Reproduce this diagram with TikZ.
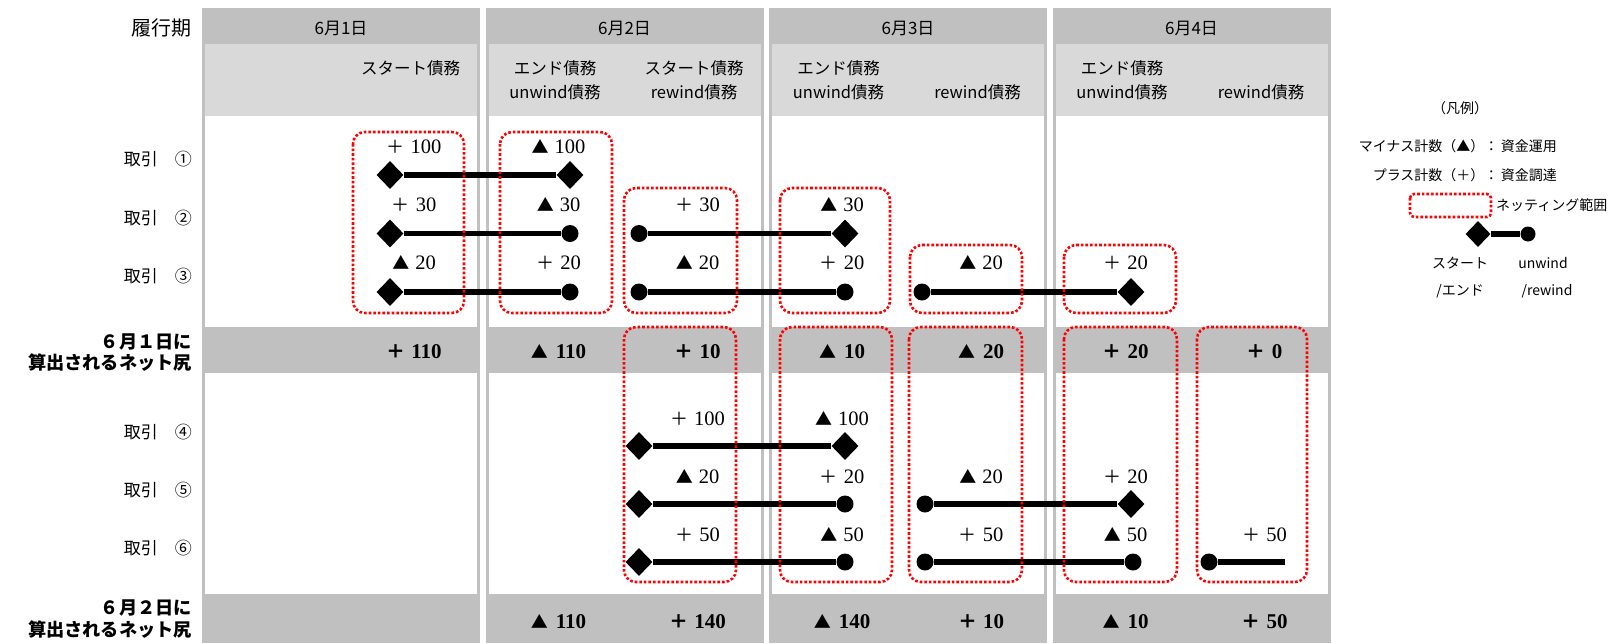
\documentclass[tikz,border=0pt]{standalone}
\usepackage{fontspec}
\setmainfont{Noto Sans CJK JP}
\newfontfamily\numf{Liberation Serif}
\usetikzlibrary{shapes.geometric}
\definecolor{gdark}{HTML}{C0C0C0}
\definecolor{glight}{HTML}{D9D9D9}
\newcommand\Pv[1]{{\fontsize{18}{22}\selectfont ＋}\hspace{6pt}{\numf\fontsize{20.5}{22}\selectfont #1}}
\newcommand\Mv[1]{{\fontsize{17}{22}\selectfont ▲}\hspace{6pt}{\numf\fontsize{20.5}{22}\selectfont #1}}
\newcommand\Pn[1]{{\bfseries ＋}\hspace{6pt}{\numf\bfseries\fontsize{21}{22}\selectfont #1}}
\newcommand\Mn[1]{{\bfseries\fontsize{17}{22}\selectfont ▲}\hspace{8pt}{\numf\bfseries\fontsize{21}{22}\selectfont #1}}
\begin{document}
\begin{tikzpicture}[x=1pt,y=-1pt,
  hdr/.style={inner sep=0pt,font={\fontsize{17}{20}\selectfont}},
  subh/.style={inner sep=0pt,font={\fontsize{16.5}{20}\selectfont}},
  lab/.style={inner sep=0pt,anchor=east,font={\fontsize{17}{20}\selectfont}},
  netlab/.style={inner sep=0pt,anchor=east,font={\fontsize{18.2}{21}\selectfont\bfseries}},
  val/.style={inner sep=0pt,font={\fontsize{19}{22}\selectfont}},
  netv/.style={inner sep=0pt,font={\fontsize{19}{22}\selectfont}},
  leg/.style={inner sep=0pt,font={\fontsize{14}{17}\selectfont}},
  dia/.style={diamond,fill=black,inner sep=0pt,minimum width=27pt,minimum height=28pt},
  dot/.style={circle,fill=black,inner sep=0pt,minimum size=17pt},
  conn/.style={line width=5.5pt},
  netbox/.style={draw=red,line width=2.6pt,dash pattern=on 2.6pt off 2pt,rounded corners=12pt}
]
\useasboundingbox (0,0) rectangle (1609,643);
% columns
\foreach \x in {202,485.5,769,1052.5} {
  \fill[gdark] (\x,8) rectangle ++(278,635);
  \fill[glight] (\x+3,44) rectangle ++(272,72);
  \fill[white] (\x+3,116) rectangle ++(272,210.5);
  \fill[white] (\x+3,372.5) rectangle ++(272,221.5);
}
% headers
\node[lab,font={\fontsize{20}{22}\selectfont}] (hk) at (192,28) {履行期};
\node[hdr] (h1) at (341,28) {6月1日};
\node[hdr] (h2) at (624.5,28) {6月2日};
\node[hdr] (h3) at (908,28) {6月3日};
\node[hdr] (h4) at (1191.5,28) {6月4日};
\node[subh] (s1r) at (410.5,68) {スタート債務};
\node[subh] (s2la) at (555,68) {エンド債務};
\node[subh] (s2lb) at (555,92) {unwind債務};
\node[subh] (s2ra) at (694,68) {スタート債務};
\node[subh] (s2rb) at (694,92) {rewind債務};
\node[subh] (s3la) at (838.5,68) {エンド債務};
\node[subh] (s3lb) at (838.5,92) {unwind債務};
\node[subh] (s3rb) at (977.5,92) {rewind債務};
\node[subh] (s4la) at (1122,68) {エンド債務};
\node[subh] (s4lb) at (1122,92) {unwind債務};
\node[subh] (s4rb) at (1261,92) {rewind債務};
% row labels
\node[lab] (l1) at (192,159) {取引　①};
\node[lab] (l2) at (192,218) {取引　②};
\node[lab] (l3) at (192,276) {取引　③};
\node[lab] (l4) at (192,432) {取引　④};
\node[lab] (l5) at (192,490) {取引　⑤};
\node[lab] (l6) at (192,548) {取引　⑥};
\node[netlab] (n1a) at (192,342) {６月１日に};
\node[netlab] (n1b) at (192,363) {算出されるネット尻};
\node[netlab] (n2a) at (192,608) {６月２日に};
\node[netlab] (n2b) at (192,630) {算出されるネット尻};
% markers
\node[dia] (m1a) at (390,175) {};
\node[dia] (m1b) at (570,175) {};
\node[dia] (m2a) at (390,233.5) {};
\node[dot] (m2b) at (570,233.5) {};
\node[dot] (m2c) at (639,233.5) {};
\node[dia] (m2d) at (845,233.5) {};
\node[dia] (m3a) at (390,292) {};
\node[dot] (m3b) at (570,292) {};
\node[dot] (m3c) at (639,292) {};
\node[dot] (m3d) at (845,292) {};
\node[dot] (m3e) at (922,292) {};
\node[dia] (m3f) at (1131,292) {};
\node[dia] (m4a) at (639,446) {};
\node[dia] (m4b) at (845,446) {};
\node[dia] (m5a) at (639,504) {};
\node[dot] (m5b) at (845,504) {};
\node[dot] (m5c) at (925,504) {};
\node[dia] (m5d) at (1131,504) {};
\node[dia] (m6a) at (639,562) {};
\node[dot] (m6b) at (845,562) {};
\node[dot] (m6c) at (925,562) {};
\node[dot] (m6d) at (1133,562) {};
\node[dot] (m6e) at (1209,562) {};
\coordinate (m6f) at (1285,562);
\draw[conn] (m1a) -- (m1b);
\draw[conn] (m2a) -- (m2b);
\draw[conn] (m2c) -- (m2d);
\draw[conn] (m3a) -- (m3b);
\draw[conn] (m3c) -- (m3d);
\draw[conn] (m3e) -- (m3f);
\draw[conn] (m4a) -- (m4b);
\draw[conn] (m5a) -- (m5b);
\draw[conn] (m5c) -- (m5d);
\draw[conn] (m6a) -- (m6b);
\draw[conn] (m6c) -- (m6d);
\draw[conn] (m6e) -- (m6f);
% values
\node[val] (v11) at (414,147) {\Pv{100}};
\node[val] (v12) at (558.5,147) {\Mv{100}};
\node[val] (v21) at (414,205) {\Pv{30}};
\node[val] (v22) at (558.5,205) {\Mv{30}};
\node[val] (v23) at (697.5,205) {\Pv{30}};
\node[val] (v24) at (842,205) {\Mv{30}};
\node[val] (v31) at (414,263) {\Mv{20}};
\node[val] (v32) at (558.5,263) {\Pv{20}};
\node[val] (v33) at (697.5,263) {\Mv{20}};
\node[val] (v34) at (842,263) {\Pv{20}};
\node[val] (v35) at (981,263) {\Mv{20}};
\node[val] (v36) at (1125.5,263) {\Pv{20}};
\node[val] (v43) at (697.5,419) {\Pv{100}};
\node[val] (v44) at (842,419) {\Mv{100}};
\node[val] (v53) at (697.5,477) {\Mv{20}};
\node[val] (v54) at (842,477) {\Pv{20}};
\node[val] (v55) at (981,477) {\Mv{20}};
\node[val] (v56) at (1125.5,477) {\Pv{20}};
\node[val] (v63) at (697.5,535) {\Pv{50}};
\node[val] (v64) at (842,535) {\Mv{50}};
\node[val] (v65) at (981,535) {\Pv{50}};
\node[val] (v66) at (1125.5,535) {\Mv{50}};
\node[val] (v67) at (1264.5,535) {\Pv{50}};
% net values
\node[netv] (a1) at (414,352) {\Pn{110}};
\node[netv] (a2) at (558.5,352) {\Mn{110}};
\node[netv] (a3) at (697.5,352) {\Pn{10}};
\node[netv] (a4) at (842,352) {\Mn{10}};
\node[netv] (a5) at (981,352) {\Mn{20}};
\node[netv] (a6) at (1125.5,352) {\Pn{20}};
\node[netv] (a7) at (1264.5,352) {\Pn{0}};
\node[netv] (b2) at (558.5,622) {\Mn{110}};
\node[netv] (b3) at (697.5,622) {\Pn{140}};
\node[netv] (b4) at (842,622) {\Mn{140}};
\node[netv] (b5) at (981,622) {\Pn{10}};
\node[netv] (b6) at (1125.5,622) {\Mn{10}};
\node[netv] (b7) at (1264.5,622) {\Pn{50}};
% netting boxes
\draw[netbox] (353,132) rectangle (464,313);
\draw[netbox] (500,132) rectangle (612,313);
\draw[netbox] (624,188) rectangle (737,313);
\draw[netbox] (780,188) rectangle (890,313);
\draw[netbox] (910,245) rectangle (1022,313);
\draw[netbox] (1064,245) rectangle (1176,313);
\draw[netbox] (624,327) rectangle (736,582);
\draw[netbox] (780,327) rectangle (892,582);
\draw[netbox] (909,327) rectangle (1022,582);
\draw[netbox] (1064,327) rectangle (1177,582);
\draw[netbox] (1197,327) rectangle (1307,582);
% legend
\node[leg] (g0) at (1460,108) {（凡例）};
\node[leg,anchor=east] (g1) at (1557,146) {マイナス計数（▲）：\,資金運用};
\node[leg,anchor=east] (g2) at (1557,175) {プラス計数（＋）：\,資金調達};
\draw[netbox,rounded corners=4pt] (1410,194) rectangle (1491,217);
\node[leg,anchor=west] (g3) at (1496,205) {ネッティング範囲};
\node[dia,minimum width=25pt,minimum height=26pt] (gd) at (1478,234) {};
\node[dot,minimum size=15pt] (gc) at (1528,234) {};
\draw[conn] (gd) -- (gc);
\node[leg] (g4) at (1460,263) {スタート};
\node[leg] (g5) at (1543,263) {unwind};
\node[leg] (g6) at (1460,291) {/エンド};
\node[leg] (g7) at (1547,291) {/rewind};
\end{tikzpicture}
\end{document}
